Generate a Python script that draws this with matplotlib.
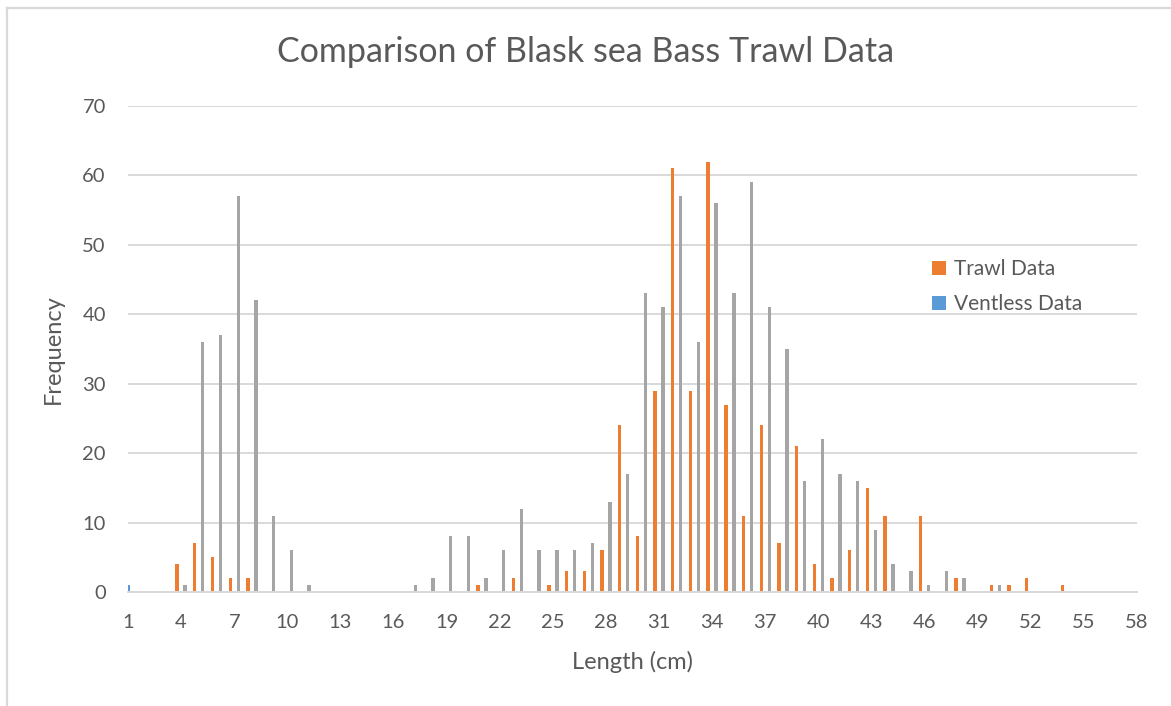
import matplotlib
matplotlib.use("Agg")
import matplotlib.pyplot as plt
import numpy as np
from matplotlib.lines import Line2D

plt.rcParams['font.family'] = ['Lato', 'DejaVu Sans']

# Categories (length in cm)
lengths = list(range(1, 59))

# Trawl Data (orange)
trawl = {4: 4, 5: 7, 6: 5, 7: 2, 8: 2, 21: 1, 23: 2, 25: 1, 26: 3, 27: 3, 28: 6,
         29: 24, 30: 8, 31: 29, 32: 61, 33: 29, 34: 62, 35: 27, 36: 11, 37: 24,
         38: 7, 39: 21, 40: 4, 41: 2, 42: 6, 43: 15, 44: 11, 46: 11, 48: 2,
         50: 1, 51: 1, 52: 2, 54: 1}
# Ventless Data (blue)
ventless = {1: 1}
# Third series (gray, not in legend)
third = {4: 1, 5: 36, 6: 37, 7: 57, 8: 42, 9: 11, 10: 6, 11: 1, 17: 1, 18: 2,
         19: 8, 20: 8, 21: 2, 22: 6, 23: 12, 24: 6, 25: 6, 26: 6, 27: 7, 28: 13,
         29: 17, 30: 43, 31: 41, 32: 57, 33: 36, 34: 56, 35: 43, 36: 59, 37: 41,
         38: 35, 39: 16, 40: 22, 41: 17, 42: 16, 43: 9, 44: 4, 45: 3, 46: 1,
         47: 3, 48: 2, 50: 1}

trawl_vals = [trawl.get(c, 0) for c in lengths]
vent_vals = [ventless.get(c, 0) for c in lengths]
third_vals = [third.get(c, 0) for c in lengths]

xticks = list(range(1, 59, 3))
yticks = list(range(0, 71, 10))

W, H = 1171, 706
fig = plt.figure(figsize=(W / 100, H / 100), dpi=100)
ax = fig.add_axes([128 / W, (H - 592) / H, (1137 - 128) / W, (592 - 106) / H])

x = np.array(lengths, dtype=float)
bw = 0.19
off = 0.226
b1 = ax.bar(x - off, trawl_vals, width=bw, color='#ED7D31', label='Trawl Data', zorder=3)
b2 = ax.bar(x, vent_vals, width=bw, color='#5B9BD5', label='Ventless Data', zorder=3)
b3 = ax.bar(x + off, third_vals, width=bw, color='#A5A5A5', zorder=3)

ax.set_xlim(1, 58)
ax.set_ylim(0, 70)
ax.set_xticks(xticks)
ax.set_xticklabels([str(t) for t in xticks])
ax.set_yticks(yticks)
ax.tick_params(axis='both', length=0, labelsize=14.5, labelcolor='#595959')
ax.tick_params(axis='x', pad=16)
ax.tick_params(axis='y', pad=16)
ax.grid(axis='y', color='#D9D9D9', linewidth=1.4, zorder=0)
for s in ['top', 'right', 'left']:
    ax.spines[s].set_visible(False)
ax.spines['bottom'].set_color('#D9D9D9')
ax.spines['bottom'].set_linewidth(1.4)
ax.spines['bottom'].set_zorder(4)

ax.set_xlabel('Length (cm)', fontsize=17, color='#595959', labelpad=14)
ax.set_ylabel('Frequency', fontsize=17, color='#595959', labelpad=13)

fig.text(586 / W, 1 - 52 / H, 'Comparison of Blask sea Bass Trawl Data',
         ha='center', va='center', fontsize=24.5, color='#595959')

leg = ax.legend(handles=[b1, b2], loc='upper left',
                bbox_to_anchor=(924 / W, 1 - 251 / H), bbox_transform=fig.transFigure,
                frameon=False, fontsize=15, labelcolor='#595959',
                handlelength=0.65, handleheight=0.65, handletextpad=0.4,
                labelspacing=0.7, borderaxespad=0)

# chart area border (left and top edges visible)
fig.add_artist(Line2D([7 / W, 7 / W], [1 - 8 / H, 0], transform=fig.transFigure,
                      color='#D9D9D9', linewidth=1.6))
fig.add_artist(Line2D([7 / W, 1], [1 - 8 / H, 1 - 8 / H], transform=fig.transFigure,
                      color='#D9D9D9', linewidth=1.6))

fig.savefig('out.png', dpi=100)
